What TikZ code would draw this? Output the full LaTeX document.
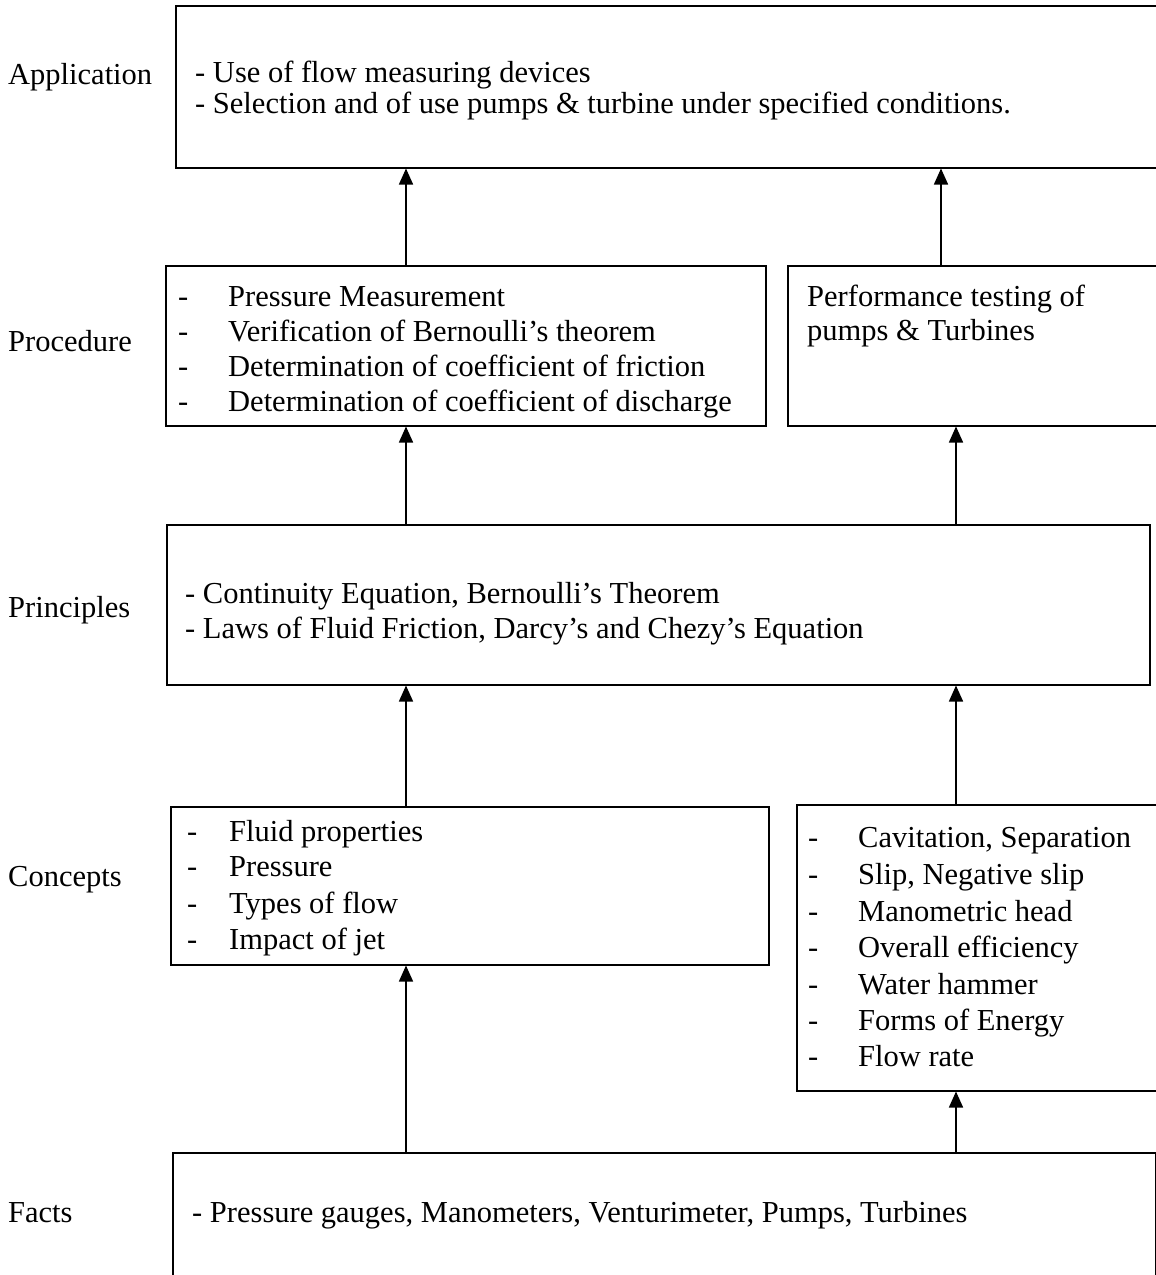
\documentclass[tikz,border=0pt]{standalone}
\usepackage{fontspec}
\setmainfont{Liberation Serif}
\usetikzlibrary{arrows.meta}
\begin{document}
\begin{tikzpicture}[x=1pt,y=-1pt,
  box/.style={draw=black,line width=1.5pt,rectangle,inner sep=0pt,anchor=north west},
  txt/.style={inner sep=0pt,anchor=mid west,yshift=-7pt,font=\fontsize{30.5}{36}\selectfont},
  lvl/.style={txt},
  arr/.style={line width=1.5pt,-{Triangle[length=16pt,width=14pt]}}]
\useasboundingbox (0,0) rectangle (1156,1275);
\clip (0,0) rectangle (1156,1275);
\fill[white] (0,0) rectangle (1156,1275);

% level names
\node[lvl] (lApp)  at (8,75)   {Application};
\node[lvl] (lProc) at (8,342)  {Procedure};
\node[lvl] (lPrin) at (8,608)  {Principles};
\node[lvl] (lConc) at (8,877)  {Concepts};
\node[lvl] (lFact) at (8,1213) {Facts};

% boxes
\node[box,minimum width=1000pt,minimum height=162pt] (app)   at (175,5)    {};
\node[box,minimum width=600pt,minimum height=160pt]  (procL) at (165,265)  {};
\node[box,minimum width=400pt,minimum height=160pt]  (procR) at (787,265)  {};
\node[box,minimum width=983pt,minimum height=160pt]  (prin)  at (166,524)  {};
\node[box,minimum width=598pt,minimum height=158pt]  (concL) at (170,806)  {};
\node[box,minimum width=400pt,minimum height=286pt]  (concR) at (796,804)  {};
\node[box,minimum width=983pt,minimum height=150pt]  (fact)  at (172,1152) {};

% application
\node[txt] (a1) at (195,73)  {- Use of flow measuring devices};
\node[txt] (a2) at (195,104) {- Selection and of use pumps \& turbine under specified conditions.};

% procedure
\foreach \y/\t [count=\i] in {297/Pressure Measurement,
    332/Verification of Bernoulli’s theorem,
    367/Determination of coefficient of friction,
    402/Determination of coefficient of discharge}{
  \node[txt] (pd\i) at (178,\y) {-};
  \node[txt] (pl\i) at (228,\y) {\t};
}
\node[txt] (pr1) at (807,297) {Performance testing of};
\node[txt] (pr2) at (807,331) {pumps \& Turbines};

% principles
\node[txt] (n1) at (185,594) {- Continuity Equation, Bernoulli’s Theorem};
\node[txt] (n2) at (185,629) {- Laws of Fluid Friction, Darcy’s and Chezy’s Equation};

% concepts
\foreach \y/\t [count=\i] in {832/Fluid properties,867/Pressure,904/Types of flow,940/Impact of jet}{
  \node[txt] (cd\i) at (187,\y) {-};
  \node[txt] (cl\i) at (229,\y) {\t};
}
\foreach \y/\t [count=\i] in {838/{Cavitation, Separation},875/{Slip, Negative slip},
    912/Manometric head,948/Overall efficiency,985/Water hammer,
    1021/Forms of Energy,1057/Flow rate}{
  \node[txt] (rd\i) at (808,\y) {-};
  \node[txt] (rl\i) at (858,\y) {\t};
}

% facts
\node[txt] (f1) at (192,1213) {- Pressure gauges, Manometers, Venturimeter, Pumps, Turbines};

% arrow columns
\coordinate (cL) at (406,0);
\coordinate (cA) at (941,0);
\coordinate (cR) at (956,0);

\draw[arr] (procL.north -| cL) -- (app.south -| cL);
\draw[arr] (procR.north -| cA) -- (app.south -| cA);
\draw[arr] (prin.north -| cL) -- (procL.south -| cL);
\draw[arr] (prin.north -| cR) -- (procR.south -| cR);
\draw[arr] (concL.north -| cL) -- (prin.south -| cL);
\draw[arr] (concR.north -| cR) -- (prin.south -| cR);
\draw[arr] (fact.north -| cL) -- (concL.south -| cL);
\draw[arr] (fact.north -| cR) -- (concR.south -| cR);
\end{tikzpicture}
\end{document}
